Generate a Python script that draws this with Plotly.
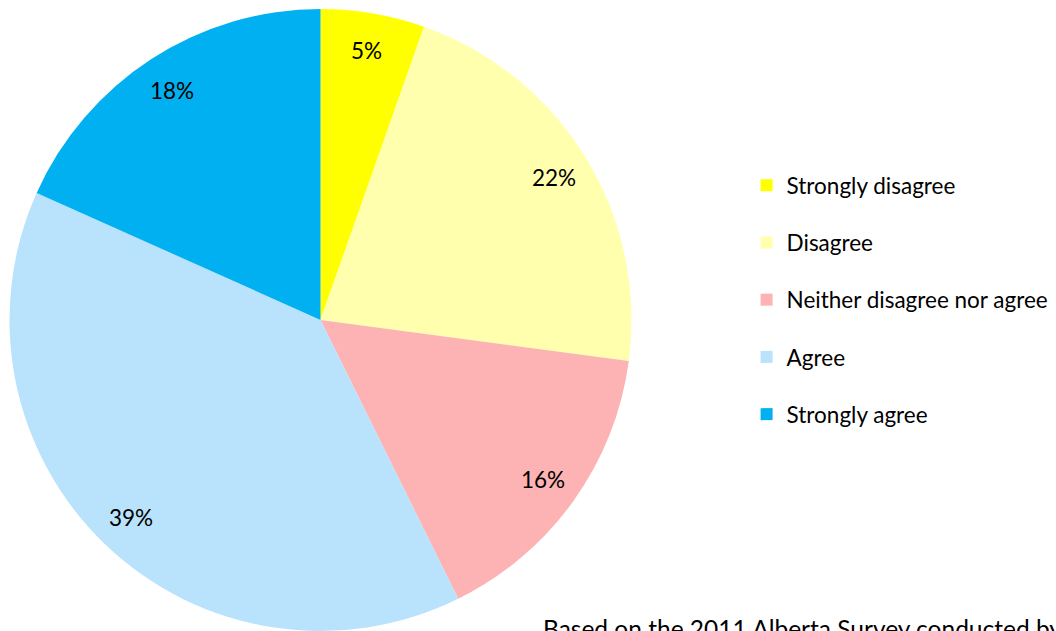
import math
import plotly.graph_objects as go

categories = ["Strongly disagree", "Disagree", "Neither disagree nor agree", "Agree", "Strongly agree"]
values = [5.4, 21.7, 15.6, 39.0, 18.3]
colors = ["#FFFF00", "#FFFFAE", "#FDB3B3", "#B9E2FC", "#00B0F0"]

W, H = 1056, 631
dom_x = [9 / W, 632 / W]
dom_y = [0.0, 1 - 9 / H]
FONT = "Lato"

fig = go.Figure()
fig.add_trace(go.Pie(
    labels=categories, values=values, sort=False, direction="clockwise",
    rotation=0, marker=dict(colors=colors, line=dict(width=0)),
    textinfo="none", hoverinfo="label+percent", showlegend=False,
    domain=dict(x=dom_x, y=dom_y),
))

# legend entries (one group each so spacing can match)
for i, (c, col) in enumerate(zip(categories, colors)):
    fig.add_trace(go.Scatter(
        x=[None], y=[None], mode="markers", name=c, legendgroup=f"g{i}",
        marker=dict(symbol="square", size=12, color=col, line=dict(width=0)),
    ))

# percentage labels positioned from the data
cx = (dom_x[0] + dom_x[1]) / 2
cy = (dom_y[0] + dom_y[1]) / 2
R = 311
total = sum(values)
cum = 0.0
for v in values:
    mid = (cum + v / 2) / total * 2 * math.pi
    cum += v
    px = 0.88 * R * math.sin(mid)
    py = 0.88 * R * math.cos(mid)
    fig.add_annotation(
        x=cx + px / W, y=cy + py / H, xref="paper", yref="paper",
        text=f"{round(v / total * 100)}%", showarrow=False,
        font=dict(family=FONT, size=22.5, color="#000000"),
        xanchor="center", yanchor="middle",
    )

fig.add_annotation(
    x=541 / W, y=1 - 612 / H, xref="paper", yref="paper",
    text="Based on the 2011 Alberta Survey conducted by", showarrow=False,
    font=dict(family=FONT, size=24.5, color="#000000"),
    xanchor="left", yanchor="top",
)

fig.update_layout(
    width=W, height=H,
    margin=dict(l=0, r=0, t=0, b=0),
    paper_bgcolor="white", plot_bgcolor="white",
    xaxis=dict(visible=False), yaxis=dict(visible=False),
    legend=dict(
        x=0.707, y=1 - 164 / H, xanchor="left", yanchor="top",
        font=dict(family=FONT, size=22.5, color="#000000"),
        tracegroupgap=25, traceorder="grouped", itemwidth=30,
        bgcolor="rgba(0,0,0,0)",
    ),
)

fig.write_html(
    "out.html",
    config={"displayModeBar": False},
    post_script="document.body.style.margin='0';document.body.style.overflow='hidden';",
)
